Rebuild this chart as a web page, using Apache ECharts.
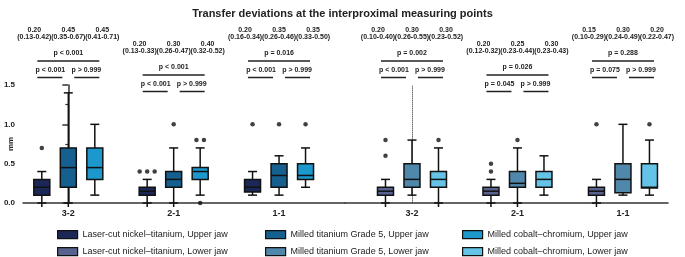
<!DOCTYPE html>
<html>
<head>
<meta charset="utf-8">
<script src="https://cdn.jsdelivr.net/npm/echarts@6/dist/echarts.min.js"></script>
<style>
    html, body { margin: 0; padding: 0; background: #fff; }
    #main { width: 685px; height: 257px; }
</style>
</head>
<body>
<div id="main"></div>
<script type="text/javascript">
    var categories = ['3-2', '2-1', '1-1'];
    var seriesNames = [
        'Laser-cut nickel\u2013titanium, Upper jaw',
        'Milled titanium Grade 5, Upper jaw',
        'Milled cobalt\u2013chromium, Upper jaw',
        'Laser-cut nickel\u2013titanium, Lower jaw',
        'Milled titanium Grade 5, Lower jaw',
        'Milled cobalt\u2013chromium, Lower jaw'
    ];

    // [min, Q1, median, Q3, max] for 3-2, 2-1, 1-1
    var laserUpper  = [[0, 0.1, 0.2, 0.3, 0.4], [0, 0.1, 0.15, 0.2, 0.3], [0.1, 0.14, 0.2, 0.3, 0.4]];
    var titanUpper  = [[0, 0.2, 0.45, 0.7, 1.4], [0, 0.2, 0.3, 0.4, 0.7], [0.1, 0.2, 0.35, 0.5, 0.6]];
    var cobaltUpper = [[0.1, 0.3, 0.45, 0.7, 1.0], [0.1, 0.3, 0.4, 0.45, 0.7], [0.2, 0.3, 0.35, 0.5, 0.7]];
    var laserLower  = [[0, 0.1, 0.15, 0.2, 0.3], [0, 0.1, 0.15, 0.2, 0.3], [0, 0.1, 0.15, 0.2, 0.3]];
    var titanLower  = [[0.1, 0.2, 0.3, 0.5, 0.8], [0, 0.2, 0.25, 0.4, 0.7], [0.1, 0.13, 0.3, 0.5, 1.0]];
    var cobaltLower = [[0, 0.2, 0.3, 0.4, 0.7], [0.1, 0.2, 0.3, 0.4, 0.6], [0.1, 0.19, 0.2, 0.5, 0.8]];

    // outliers: [category index, value]
    var laserUpperOut  = [[0, 0.7], [1, 0.4], [1, 0.4], [1, 0.4], [2, 1.0]];
    var titanUpperOut  = [[1, 1.0], [2, 1.0]];
    var cobaltUpperOut = [[1, 0.8], [1, 0.8], [1, 0], [2, 1.0]];
    var laserLowerOut  = [[0, 0.6], [0, 0.8], [1, 0.4], [1, 0.5], [2, 1.0]];
    var titanLowerOut  = [[1, 0.8]];
    var cobaltLowerOut = [[0, 0.8], [2, 1.0]];

    // annotation texts
    var medianUpper = [['0.20', '0.45', '0.45'], ['0.20', '0.30', '0.40'], ['0.20', '0.35', '0.35']];
    var iqrUpper = [['(0.13-0.42)', '(0.35-0.67)', '(0.41-0.71)'], ['(0.13-0.33)', '(0.26-0.47)', '(0.32-0.52)'], ['(0.16-0.34)', '(0.26-0.46)', '(0.33-0.50)']];
    var medianLower = [['0.20', '0.30', '0.30'], ['0.20', '0.25', '0.30'], ['0.15', '0.30', '0.20']];
    var iqrLower = [['(0.10-0.40)', '(0.26-0.55)', '(0.23-0.52)'], ['(0.12-0.32)', '(0.23-0.44)', '(0.23-0.43)'], ['(0.10-0.29)', '(0.24-0.49)', '(0.22-0.47)']];
    var pAllUpper = ['p < 0.001', 'p < 0.001', 'p = 0.016'];
    var pPairUpper = [['p < 0.001', 'p > 0.999'], ['p < 0.001', 'p > 0.999'], ['p < 0.001', 'p > 0.999']];
    var pAllLower = ['p = 0.002', 'p = 0.026', 'p = 0.288'];
    var pPairLower = [['p < 0.001', 'p > 0.999'], ['p = 0.045', 'p > 0.999'], ['p = 0.075', 'p > 0.999']];

    var colors = ['#1b2857', '#15608f', '#1c98cc', '#58628f', '#4f88ab', '#64c3e6'];
    var FONT = '"Liberation Sans", Arial, sans-serif';
    var BOX_SHIFT = 26.5;

    var dom = document.getElementById('main');
    var myChart = echarts.init(dom);

    function boxSeries(idx, data, grid, shift) {
        return {
            type: 'custom',
            name: seriesNames[idx],
            xAxisIndex: grid,
            yAxisIndex: grid,
            itemStyle: {color: colors[idx]},
            encode: {x: 0, y: [1, 2, 3, 4, 5]},
            data: data.map(function (d, i) { return [i].concat(d); }),
            renderItem: function (params, api) {
                var x = api.coord([api.value(0), 0])[0] + shift;
                var yMin = api.coord([0, api.value(1)])[1];
                var yQ1 = api.coord([0, api.value(2)])[1];
                var yMed = api.coord([0, api.value(3)])[1];
                var yQ3 = api.coord([0, api.value(4)])[1];
                var yMax = api.coord([0, api.value(5)])[1];
                var hw = 8, cw = 4.5;
                var ln = {stroke: '#111', lineWidth: 1.5};
                var extra = api.value(1) === 0 ? 4 : 0;
                return {
                    type: 'group',
                    children: [
                        {type: 'line', shape: {x1: x, y1: yMin + extra, x2: x, y2: yMax}, style: ln},
                        {type: 'line', shape: {x1: x - cw, y1: yMin, x2: x + cw, y2: yMin}, style: ln},
                        {type: 'line', shape: {x1: x - cw, y1: yMax, x2: x + cw, y2: yMax}, style: ln},
                        {type: 'rect', shape: {x: x - hw, y: yQ3, width: hw * 2, height: yQ1 - yQ3},
                            style: {fill: colors[idx], stroke: '#111', lineWidth: 1.5}},
                        {type: 'line', shape: {x1: x - hw, y1: yMed, x2: x + hw, y2: yMed}, style: ln}
                    ]
                };
            }
        };
    }

    function outlierSeries(points, grid, shift) {
        var seen = {};
        var counts = {};
        points.forEach(function (p) { var k = p[0] + '_' + p[1]; counts[k] = (counts[k] || 0) + 1; });
        return {
            type: 'scatter',
            name: 'outliers',
            xAxisIndex: grid,
            yAxisIndex: grid,
            symbolSize: 4.5,
            itemStyle: {color: '#111'},
            silent: true,
            data: points.map(function (p) {
                var k = p[0] + '_' + p[1];
                var n = counts[k];
                var j = seen[k] || 0;
                seen[k] = j + 1;
                return {value: p, symbolOffset: [shift + (j - (n - 1) / 2) * 7.5, 0]};
            })
        };
    }

    function xAxisDef(grid, min, max) {
        return {
            type: 'value', gridIndex: grid, min: min, max: max,
            axisLine: {show: true, onZero: false, lineStyle: {color: '#333', width: 1.5}},
            axisTick: {show: false},
            splitLine: {show: false},
            axisLabel: {
                customValues: [0, 1, 2],
                formatter: function (v) { return categories[Math.round(v)]; },
                fontFamily: FONT, fontSize: 9, fontWeight: 'bold', color: '#222', margin: 6
            }
        };
    }

    // one legend per item so the 3 x 2 layout lines up in columns
    var legendCols = [52, 260, 457];
    var legendRows = [225, 242];
    var legends = [];
    for (var s = 0; s < 6; s++) {
        legends.push({
            left: legendCols[s % 3],
            top: legendRows[Math.floor(s / 3)],
            itemWidth: 20,
            itemHeight: 8,
            icon: 'rect',
            selectedMode: false,
            textStyle: {fontFamily: FONT, fontSize: 9, color: '#222'},
            data: [{name: seriesNames[s], itemStyle: {color: colors[s], borderColor: '#111', borderWidth: 1.2}}]
        });
    }

    option = {
        animation: false,
        title: {
            text: 'Transfer deviations at the interproximal measuring points',
            left: 'center',
            top: 3,
            textStyle: {fontFamily: FONT, fontSize: 11, fontWeight: 'bold', color: '#222'}
        },
        legend: legends,
        grid: [
            {left: 23, right: 340, top: 85, bottom: 54},
            {left: 345, right: 17, top: 85, bottom: 54}
        ],
        xAxis: [
            xAxisDef(0, -0.43, 2.626),
            xAxisDef(1, -0.635, 2.427)
        ],
        yAxis: [
            {
                type: 'value', gridIndex: 0, min: 0, max: 1.5, interval: 0.5,
                name: 'mm', nameLocation: 'middle', nameGap: 8, nameRotate: 90,
                nameMoveOverlap: false,
                nameTextStyle: {fontFamily: FONT, fontSize: 8, fontWeight: 'bold', color: '#222'},
                axisLine: {show: true, lineStyle: {color: '#333', width: 1.5}},
                axisTick: {show: true, length: 6, lineStyle: {color: '#333', width: 1.5}},
                minorTick: {show: true, splitNumber: 2, length: 3, lineStyle: {color: '#333', width: 1.2}},
                splitLine: {show: false},
                axisLabel: {
                    formatter: function (v) { return v.toFixed(1); },
                    fontFamily: FONT, fontSize: 8, fontWeight: 'bold', color: '#222', margin: 8
                }
            },
            {
                type: 'value', gridIndex: 1, min: 0, max: 1.5, interval: 0.5,
                axisLine: {show: true, lineStyle: {color: '#777', width: 1, type: 'dotted'}},
                axisTick: {show: false},
                axisLabel: {show: false},
                splitLine: {show: false}
            }
        ],
        series: [
            boxSeries(0, laserUpper, 0, -BOX_SHIFT),
            boxSeries(1, titanUpper, 0, 0),
            boxSeries(2, cobaltUpper, 0, BOX_SHIFT),
            boxSeries(3, laserLower, 1, -BOX_SHIFT),
            boxSeries(4, titanLower, 1, 0),
            boxSeries(5, cobaltLower, 1, BOX_SHIFT),
            outlierSeries(laserUpperOut, 0, -BOX_SHIFT),
            outlierSeries(titanUpperOut, 0, 0),
            outlierSeries(cobaltUpperOut, 0, BOX_SHIFT),
            outlierSeries(laserLowerOut, 1, -BOX_SHIFT),
            outlierSeries(titanLowerOut, 1, 0),
            outlierSeries(cobaltLowerOut, 1, BOX_SHIFT)
        ]
    };
    myChart.setOption(option, true);

    // annotation rows (y pixels) for the high and low bracket levels
    var levelA = {median: 30, iqr: 37.5, p: 53, line: 61, pairs: 70, lines: 77.5};
    var levelB = {median: 44, iqr: 51.5, p: 67, line: 75, pairs: 84, lines: 91.5};

    var graphics = [];
    function txt(x, y, s) {
        graphics.push({type: 'text', x: x, y: y, silent: true,
            style: {text: s, align: 'center', verticalAlign: 'middle', fill: '#222',
                font: 'bold 7px "Liberation Sans", Arial, sans-serif'}});
    }
    function hline(x1, x2, y) {
        graphics.push({type: 'line', silent: true, shape: {x1: x1, y1: y, x2: x2, y2: y},
            style: {stroke: '#222', lineWidth: 1.5}});
    }
    function annotate(grid, medians, iqrs, pAll, pPairs) {
        for (var i = 0; i < categories.length; i++) {
            var mid = myChart.convertToPixel({xAxisIndex: grid}, i);
            var L = i === 1 ? levelB : levelA;
            for (var k = 0; k < 3; k++) {
                txt(mid + (k - 1) * 34, L.median, medians[i][k]);
                txt(mid + (k - 1) * 34, L.iqr, iqrs[i][k]);
            }
            txt(mid, L.p, pAll[i]);
            hline(mid - 31, mid + 31, L.line);
            txt(mid - 18, L.pairs, pPairs[i][0]);
            txt(mid + 18, L.pairs, pPairs[i][1]);
            hline(mid - 31, mid - 6, L.lines);
            hline(mid + 6, mid + 31, L.lines);
        }
    }
    annotate(0, medianUpper, iqrUpper, pAllUpper, pPairUpper);
    annotate(1, medianLower, iqrLower, pAllLower, pPairLower);
    myChart.setOption({graphic: graphics});
</script>
</body>
</html>
